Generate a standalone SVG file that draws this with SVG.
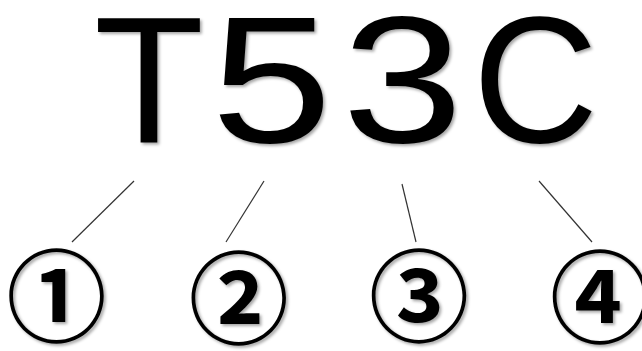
<svg xmlns="http://www.w3.org/2000/svg" width="642" height="351" viewBox="0 0 642 351">
<defs>
<style>
.big{font-family:"Liberation Sans",Arial,sans-serif;font-size:180px;fill:#000;text-anchor:middle}
.num{font-family:"Noto Sans CJK JP",sans-serif;font-size:100px;font-weight:700;fill:#000;text-anchor:middle}
.conn line{stroke:#333;stroke-width:1.2}
</style>
<filter id="sh" x="-10%" y="-10%" width="130%" height="130%"><feDropShadow dx="2" dy="2" stdDeviation="1.5" flood-color="#000" flood-opacity="0.35"/></filter>
</defs>
<rect width="642" height="351" fill="#fff"/>
<g id="title" filter="url(#sh)">
<text class="big" x="149" y="141.7">T</text>
<text class="big" transform="translate(271.5,141.7) scale(1.21,1)" x="0" y="0">5</text>
<text class="big" transform="translate(402.5,141.7) scale(1.21,1)" x="0" y="0">3</text>
<text class="big" transform="translate(535.5,141.7) scale(0.965,1)" x="0" y="0">C</text>
</g>
<g id="connectors" class="conn">
<line x1="134" y1="181" x2="72" y2="242"/>
<line x1="264" y1="181" x2="226" y2="242"/>
<line x1="402" y1="184" x2="416" y2="242"/>
<line x1="539" y1="181" x2="592" y2="242"/>
</g>
<g id="n1" filter="url(#sh)"><text class="num" x="56.6" y="334">①</text></g>
<g id="n2" filter="url(#sh)"><text class="num" x="238.7" y="336">②</text></g>
<g id="n3" filter="url(#sh)"><text class="num" x="419" y="334">③</text></g>
<g id="n4" filter="url(#sh)"><text class="num" x="600" y="335">④</text></g>
</svg>
